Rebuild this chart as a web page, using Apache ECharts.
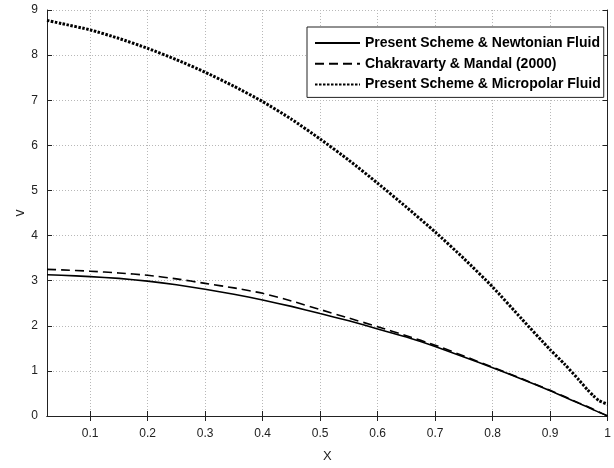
<!DOCTYPE html>
<html><head><meta charset="utf-8">
<script src="https://cdn.jsdelivr.net/npm/echarts@6/dist/echarts.min.js"></script>
<style>html,body{margin:0;padding:0;background:#fff}#c{width:614px;height:468px}</style>
</head><body><div id="c"></div>
<script>
const xs = [0.025,0.05,0.1,0.15,0.2,0.25,0.3,0.35,0.4,0.45,0.5,0.55,0.6,0.65,0.7,0.75,0.8,0.85,0.9,0.925,0.95,0.965,0.975,0.985,1.0];
const newtonian = [3.13,3.12,3.09,3.05,2.99,2.91,2.81,2.70,2.57,2.43,2.27,2.11,1.93,1.75,1.54,1.31,1.07,0.82,0.56,0.42,0.28,0.20,0.14,0.08,0.0];
const chakravarty = [3.25,3.24,3.21,3.17,3.12,3.04,2.94,2.84,2.72,2.55,2.36,2.17,1.98,1.78,1.57,1.33,1.08,0.83,0.57,0.43,0.29,0.21,0.15,0.09,0.0];
const micropolar = [8.77,8.70,8.56,8.37,8.15,7.90,7.62,7.31,6.97,6.58,6.14,5.67,5.16,4.63,4.08,3.49,2.86,2.16,1.47,1.15,0.80,0.58,0.45,0.34,0.26];
const xTicks = [0.1,0.2,0.3,0.4,0.5,0.6,0.7,0.8,0.9,1];
const seriesNames = ['Present Scheme & Newtonian Fluid','Chakravarty & Mandal (2000)','Present Scheme & Micropolar Fluid'];

const pairs = a => xs.map((x,i)=>[x,a[i]]);
const chart = echarts.init(document.getElementById('c'));
const axisLine = {show:true, lineStyle:{color:'#222', width:1}};
const grid = {show:true, lineStyle:{color:'#b8b8b8', type:[1,2], width:1}};
const FONT = 'Liberation Sans, Arial, sans-serif';
const lab = {color:'#222', fontFamily:FONT, fontSize:12};
chart.setOption({
  animation:false,
  backgroundColor:'#fff',
  grid:{left:47, right:5, top:10, bottom:52},
  legend:{
    top:27, left:307, orient:'vertical', itemGap:6.7, itemWidth:45, itemHeight:14, itemTextGap:4,
    backgroundColor:'#fff', borderColor:'#222', borderWidth:1, padding:[9,3,6,7],
    itemStyle:{opacity:0},
    textStyle:{color:'#000', fontFamily:FONT, fontWeight:'bold', fontSize:14},
    data:seriesNames
  },
  xAxis:[{
    type:'value', min:0.025, max:1, position:'bottom',
    name:'X', nameLocation:'middle', nameGap:34, nameMoveOverlap:false, nameTextStyle:{color:'#222', fontSize:13, fontFamily:FONT},
    axisLine, splitLine:grid,
    axisTick:{show:true, inside:true, length:5, customValues:xTicks, lineStyle:{color:'#222'}},
    axisLabel:Object.assign({customValues:xTicks, margin:12, formatter:v=>String(+v.toFixed(2))}, lab)
  },{
    type:'value', min:0.025, max:1, position:'top',
    axisLine, splitLine:{show:false},
    axisTick:{show:true, inside:true, length:5, customValues:xTicks, lineStyle:{color:'#222'}},
    axisLabel:{show:false}
  }],
  yAxis:[{
    type:'value', min:0, max:9, interval:1, position:'left',
    name:'v', nameLocation:'middle', nameGap:20, nameRotate:90, nameMoveOverlap:false, nameTextStyle:{color:'#222', fontSize:14, fontFamily:FONT},
    axisLine, splitLine:grid,
    axisTick:{show:true, inside:true, length:5, lineStyle:{color:'#222'}},
    axisLabel:Object.assign({margin:9}, lab)
  },{
    type:'value', min:0, max:9, interval:1, position:'right',
    axisLine, splitLine:{show:false},
    axisTick:{show:true, inside:true, length:5, lineStyle:{color:'#222'}},
    axisLabel:{show:false}
  }],
  series:[
    {name:seriesNames[0], type:'line', data:pairs(newtonian), symbol:'none', smooth:0.2, lineStyle:{color:'#000', width:1.6, type:'solid'}, itemStyle:{color:'#000'}, z:3},
    {name:seriesNames[1], type:'line', data:pairs(chakravarty), symbol:'none', smooth:0.2, lineStyle:{color:'#000', width:1.6, type:[9,5]}, itemStyle:{color:'#000'}, z:2},
    {name:seriesNames[2], type:'line', data:pairs(micropolar), symbol:'none', smooth:0.2, lineStyle:{color:'#000', width:3, type:[2.5,1.5]}, itemStyle:{color:'#000'}, z:4}
  ]
});
</script></body></html>
